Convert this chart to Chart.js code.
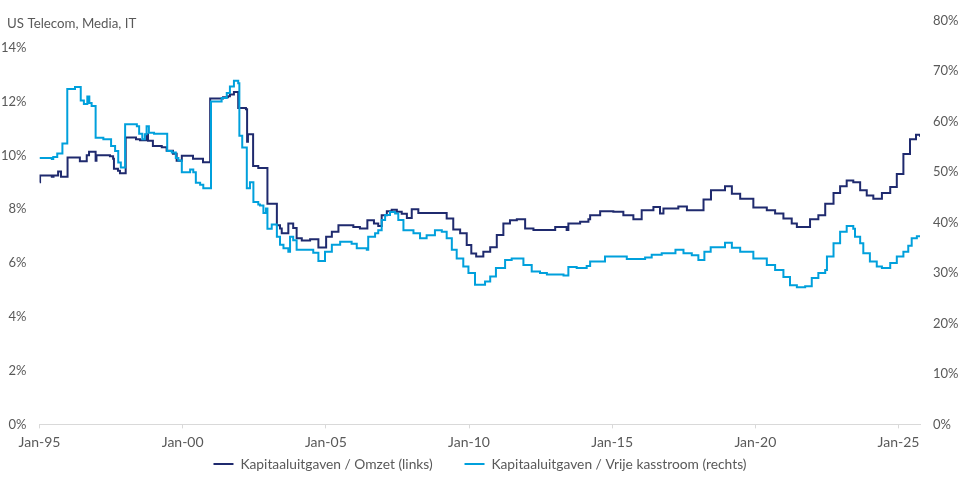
<!DOCTYPE html>
<html>
<head>
<meta charset="utf-8">
<script src="https://cdn.jsdelivr.net/npm/chart.js@4/dist/chart.umd.min.js"></script>
<style>
  html, body { margin: 0; padding: 0; background: #fff; }
  #wrap { width: 960px; height: 481px; }
</style>
</head>
<body>
<div id="wrap"><canvas id="capexChart"></canvas></div>
<script>
// Kapitaaluitgaven / Omzet (links), dates as decimal years
const omzetDates = [1995.0, 1995.02, 1995.43, 1995.49, 1995.65, 1995.75, 1995.98, 1996.41, 1996.65, 1996.73, 1996.96, 1996.99,
  1997.46, 1997.57, 1997.6, 1997.74, 1997.81, 1998.01, 1998.37, 1998.51, 1998.74, 1998.79, 1998.96, 1999.27, 1999.44,
  1999.66, 1999.79, 1999.97, 2000.36, 2000.71, 2000.96, 2001.41, 2001.58, 2001.65, 2001.79, 2001.94, 2002.21, 2002.25,
  2002.28, 2002.46, 2002.64, 2002.96, 2003.29, 2003.40, 2003.46, 2003.69, 2003.86, 2003.98, 2004.16, 2004.45, 2004.74,
  2005.01, 2005.21, 2005.44, 2005.96, 2006.19, 2006.45, 2006.68, 2006.83, 2006.95, 2007.13, 2007.30, 2007.48, 2007.65,
  2007.83, 2008.0, 2008.23, 2009.22, 2009.45, 2009.69, 2009.92, 2010.08, 2010.25, 2010.50, 2010.74, 2010.97, 2011.20,
  2011.43, 2011.67, 2011.96, 2012.25, 2013.01, 2013.41, 2013.47, 2013.88, 2014.17, 2014.23, 2014.58, 2015.04, 2015.39,
  2015.74, 2016.03, 2016.44, 2016.67, 2016.79, 2017.31, 2017.61, 2018.19, 2018.45, 2018.94, 2019.18, 2019.47, 2019.93,
  2020.40, 2020.69, 2020.98, 2021.27, 2021.45, 2021.91, 2022.20, 2022.44, 2022.73, 2022.96, 2023.19, 2023.42, 2023.66,
  2023.89, 2024.12, 2024.42, 2024.71, 2024.94, 2025.17, 2025.40, 2025.61, 2025.75];
const omzetValues = [9.0, 9.25, 9.2, 9.25, 9.4, 9.2, 9.92, 9.78, 10.0, 10.13, 9.8, 10.0,
  9.97, 9.87, 9.5, 9.43, 9.33, 10.66, 10.6, 10.56, 10.78, 10.54, 10.35, 10.3, 10.17,
  10.06, 9.8, 9.98, 9.87, 9.74, 12.11, 12.16, 12.2, 12.26, 12.35, 11.76, 11.71, 10.5,
  10.78, 9.6, 9.53, 8.2, 7.4, 7.28, 7.1, 7.47, 7.3, 6.92, 6.83, 6.88, 6.57,
  6.97, 7.16, 7.4, 7.34, 7.28, 7.59, 7.47, 7.37, 7.77, 7.92, 7.98, 7.9, 7.83,
  7.67, 8.0, 7.86, 7.65, 7.24, 7.1, 6.67, 6.35, 6.24, 6.42, 6.58, 7.04, 7.47,
  7.59, 7.62, 7.28, 7.22, 7.34, 7.22, 7.47, 7.53, 7.62, 7.77, 7.92, 7.9, 7.77,
  7.62, 7.96, 8.08, 7.84, 8.02, 8.1, 7.96, 8.36, 8.7, 8.85, 8.57, 8.39, 8.06,
  7.96, 7.84, 7.65, 7.47, 7.34, 7.62, 7.77, 8.2, 8.6, 8.85, 9.06, 9.0, 8.7,
  8.51, 8.39, 8.6, 8.82, 9.31, 10.05, 10.6, 10.76, 10.69];

// Kapitaaluitgaven / Vrije kasstroom (rechts)
const fcfDates = [1995.0, 1995.43, 1995.48, 1995.62, 1995.80, 1995.97, 1996.24, 1996.44, 1996.55, 1996.67, 1996.74, 1996.82,
  1996.96, 1997.23, 1997.50, 1997.64, 1997.75, 1997.84, 1997.99, 1998.40, 1998.48, 1998.59, 1998.68, 1998.74, 1998.82,
  1999.0, 1999.46, 1999.62, 1999.76, 1999.85, 1999.97, 2000.26, 2000.37, 2000.46, 2000.61, 2000.72, 2000.99, 2001.36,
  2001.54, 2001.65, 2001.79, 2001.94, 2001.98, 2002.08, 2002.24, 2002.35, 2002.47, 2002.64, 2002.70, 2002.82, 2002.91,
  2002.96, 2003.11, 2003.29, 2003.40, 2003.52, 2003.69, 2003.75, 2003.86, 2003.98, 2004.56, 2004.74, 2004.97, 2005.21,
  2005.50, 2005.90, 2006.08, 2006.43, 2006.48, 2006.72, 2006.83, 2006.95, 2007.07, 2007.24, 2007.42, 2007.53, 2007.71,
  2008.06, 2008.29, 2008.52, 2008.81, 2009.05, 2009.22, 2009.40, 2009.57, 2009.80, 2009.98, 2010.21, 2010.56, 2010.74,
  2010.94, 2011.26, 2011.49, 2011.90, 2012.19, 2012.48, 2012.72, 2013.30, 2013.47, 2013.76, 2014.11, 2014.23, 2014.75,
  2015.51, 2016.15, 2016.38, 2016.73, 2017.21, 2017.49, 2017.78, 2018.01, 2018.22, 2018.44, 2018.94, 2019.18, 2019.47,
  2019.93, 2020.40, 2020.69, 2020.98, 2021.21, 2021.45, 2021.74, 2021.97, 2022.20, 2022.44, 2022.50, 2022.73, 2022.96,
  2023.19, 2023.42, 2023.48, 2023.66, 2023.77, 2024.0, 2024.24, 2024.42, 2024.71, 2024.94, 2025.17, 2025.34, 2025.46,
  2025.64, 2025.75];
const fcfValues = [52.8, 52.6, 53.0, 53.7, 55.7, 66.5, 66.9, 64.2, 63.5, 65.0, 63.7, 63.1,
  56.8, 56.5, 55.2, 54.2, 51.9, 50.9, 59.5, 59.1, 57.6, 56.5, 57.5, 59.1, 57.8,
  57.6, 54.2, 53.9, 52.8, 52.3, 50.0, 50.5, 50.0, 47.9, 47.5, 46.8, 64.0, 64.7,
  65.7, 67.0, 68.1, 67.6, 57.2, 54.9, 46.8, 48.0, 44.1, 43.6, 43.4, 41.9, 42.8,
  38.8, 39.6, 37.2, 35.6, 34.9, 34.2, 37.2, 36.5, 34.6, 34.0, 32.4, 34.2, 35.6,
  36.2, 35.8, 34.9, 34.6, 37.2, 37.9, 38.5, 40.5, 41.5, 42.1, 41.8, 40.5, 38.5,
  37.9, 36.9, 37.5, 38.5, 38.2, 36.9, 34.6, 32.9, 31.3, 30.0, 27.7, 28.3, 29.3,
  31.0, 32.6, 32.9, 31.6, 30.3, 30.0, 29.7, 29.5, 31.2, 31.0, 31.4, 32.3, 33.3,
  32.8, 33.1, 33.6, 33.9, 34.6, 33.9, 33.5, 32.6, 34.2, 35.1, 36.0, 35.0, 34.2,
  32.9, 31.6, 30.6, 29.2, 27.6, 27.2, 27.4, 29.0, 30.0, 30.6, 33.3, 35.9, 38.2,
  39.3, 38.8, 37.2, 35.9, 33.9, 32.3, 31.3, 31.0, 32.0, 33.3, 34.2, 35.4, 36.9,
  37.3, 37.1];

const xTickYears = [1995, 2000, 2005, 2010, 2015, 2020, 2025];
const seriesLabels = ['Kapitaaluitgaven / Omzet (links)', 'Kapitaaluitgaven / Vrije kasstroom (rechts)'];
const chartTitle = 'US Telecom, Media, IT';

const grey = '#595959';
const tickFont = { family: 'Lato', size: 13 };

const toPoints = (xs, ys) => xs.map((x, i) => ({ x: x, y: ys[i] }));

const titlePlugin = {
  id: 'cornerTitle',
  afterDraw(chart) {
    const ctx = chart.ctx;
    ctx.save();
    ctx.font = '13.3px Lato';
    ctx.fillStyle = grey;
    ctx.textBaseline = 'middle';
    ctx.fillText(chartTitle, 7, 24);
    ctx.restore();
  }
};

new Chart(document.getElementById('capexChart').getContext('2d'), {
  type: 'line',
  data: {
    datasets: [
      {
        label: seriesLabels[0],
        data: toPoints(omzetDates, omzetValues),
        yAxisID: 'yLeft',
        borderColor: '#1f2a6e',
        backgroundColor: '#1f2a6e',
        borderWidth: 2,
        stepped: true,
        pointRadius: 0,
        order: 1
      },
      {
        label: seriesLabels[1],
        data: toPoints(fcfDates, fcfValues),
        yAxisID: 'yRight',
        borderColor: '#00a0dc',
        backgroundColor: '#00a0dc',
        borderWidth: 2,
        stepped: true,
        pointRadius: 0,
        order: 0
      }
    ]
  },
  options: {
    responsive: true,
    maintainAspectRatio: false,
    animation: false,
    layout: { padding: { top: 19, left: 0, right: 0, bottom: 0 } },
    plugins: {
      legend: {
        position: 'bottom',
        labels: {
          font: { family: 'Lato', size: 13.8 },
          color: grey,
          usePointStyle: true,
          pointStyle: 'line',
          pointStyleWidth: 20,
          boxWidth: 20,
          boxHeight: 8,
          padding: 0,
          // padding 0 keeps the legend short; the gap between the two items is a run of spaces
          generateLabels: chart => {
            const items = Chart.defaults.plugins.legend.labels.generateLabels(chart);
            items.forEach(it => { if (it.datasetIndex === 0) it.text += '         '; });
            return items;
          },
          sort: (a, b) => a.datasetIndex - b.datasetIndex
        }
      },
      tooltip: { enabled: false }
    },
    scales: {
      x: {
        type: 'linear',
        min: 1995,
        max: 2025.75,
        afterBuildTicks: axis => { axis.ticks = xTickYears.map(v => ({ value: v })); },
        ticks: {
          font: { family: 'Lato', size: 14, lineHeight: 1.06 },
          color: grey,
          padding: 7,
          maxRotation: 0,
          callback: v => 'Jan-' + String(v).slice(2)
        },
        grid: { drawOnChartArea: false, drawTicks: true, tickLength: 4, color: '#d9d9d9' },
        border: { display: true, color: '#d9d9d9' }
      },
      yLeft: {
        position: 'left',
        min: 0,
        max: 15,
        afterBuildTicks: axis => { axis.ticks = axis.ticks.filter(t => t.value % 2 === 0); },
        afterFit: axis => { axis.width = 39.5; },
        ticks: { stepSize: 2, font: tickFont, color: grey, padding: 13, callback: v => v + '%' },
        grid: { display: false, drawTicks: false },
        border: { display: false }
      },
      yRight: {
        position: 'right',
        min: 0,
        max: 80,
        afterFit: axis => { axis.width = 40; },
        ticks: { stepSize: 10, font: tickFont, color: grey, padding: 13, callback: v => v + '%' },
        grid: { display: false, drawTicks: false },
        border: { display: false }
      }
    }
  },
  plugins: [titlePlugin]
});
</script>
</body>
</html>
